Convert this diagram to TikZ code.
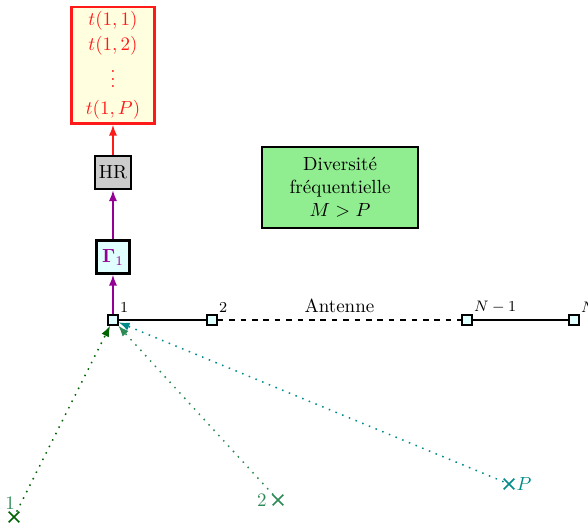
\documentclass[tikz,border=0pt]{standalone}
\usepackage{amsmath,amssymb,bm}
\usepackage{xcolor}
\definecolor{ryel}{HTML}{FFFFE0}
\definecolor{rred}{HTML}{FF1A1A}
\definecolor{hrg}{HTML}{CCCCCC}
\definecolor{cyl}{HTML}{E0FFFF}
\definecolor{pur}{HTML}{930093}
\definecolor{grl}{HTML}{90EE90}
\definecolor{dgr}{HTML}{006400}
\definecolor{sgr}{HTML}{2E8B57}
\definecolor{tea}{HTML}{008B8B}
\usetikzlibrary{arrows.meta,positioning,shapes.misc}
\tikzset{
  >={Latex[length=2mm]},
  box/.style={draw,very thick,inner sep=2pt,align=center,minimum size=6.1mm},
  elt/.style={draw,thick,fill=cyl,minimum size=1.85mm,inner sep=0pt},
  src/.style={cross out,draw,thick,minimum size=1.7mm,inner sep=0pt},
  lab/.style={font=\footnotesize,inner sep=0.5pt},
  ray/.style={->,thick,dash pattern=on \pgflinewidth off 3pt},
}

\begin{document}
\begin{tikzpicture}[x=1mm,y=1mm]
\useasboundingbox (-20.9,-37.74) rectangle (87.87,59.19);
% antenna elements
\foreach \n/\x/\t in {e1/0/1,e2/18.31/2,eN1/65.48/{$N-1$},eN/85.28/{$N$}}{
  \node[elt,label={[lab]north east:\t}] (\n) at (\x,0) {};
}
\draw[thick] (e1) -- (e2);
\draw[thick,dashed] (e2) -- (eN1) node[midway,above]{Antenne};
\draw[thick] (eN1) -- (eN);
% processing chain
\node[box,fill=cyl,text=pur,above=7.3mm of e1] (gam) {$\mathbf{\Gamma}_1$};
\node[box,fill=hrg,above=9.1mm of gam] (hr) {HR};
\node[box,draw=rred,fill=ryel,text=rred,minimum width=15.35mm,minimum height=21.6mm,above=5.6mm of hr] (out)
  {$t(1,1)$\\[1pt]$t(1,2)$\\[1pt]$\vdots$\\[2pt]$t(1,P)$};
\draw[->,pur,thick] (e1) -- (gam);
\draw[->,pur,thick] (gam) -- (hr);
\draw[->,rred,thick] (hr) -- (out);
\node[box,fill=grl,minimum width=28.9mm,minimum height=15mm] (div) at (42,24.5)
  {Diversit\'e\\fr\'equentielle\\$M>P$};
% sources
\node[src,dgr,label={[sgr,inner sep=1pt,xshift=-0.7mm]above:1}] (s1) at (-18.31,-36.44) {};
\node[src,sgr,label={[sgr,inner sep=3pt]left:2}] (s2) at (30.52,-33.3) {};
\node[src,tea,label={[tea,inner sep=1pt]right:$P$}] (sP) at (73.25,-30.34) {};
\draw[ray,dgr] (s1) -- (e1);
\draw[ray,sgr] (s2) -- (e1);
\draw[ray,tea] (sP) -- (e1);
\end{tikzpicture}
\end{document}
